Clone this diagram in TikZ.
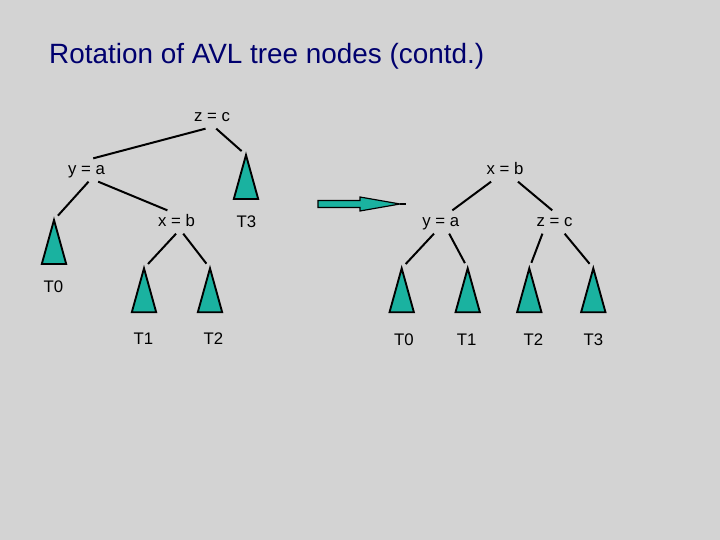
\documentclass[tikz,border=0pt]{standalone}
\usepackage{fontspec}
\setmainfont{Liberation Sans}
\usepackage{xcolor}
\usepackage{tikz}
\usetikzlibrary{positioning,calc}

\definecolor{slidegray}{RGB}{211,211,211}
\definecolor{titleblue}{RGB}{0,0,110}
\definecolor{subteal}{RGB}{26,178,160}

\begin{document}
\begin{tikzpicture}[x=0.03cm, y=-0.03cm,
    key/.style={font=\fontsize{14.3}{16}\selectfont, text height=12pt, text depth=3.5pt, inner sep=2pt},
    leaf/.style={font=\fontsize{14.3}{16}\selectfont, inner sep=1pt},
    subtree/.style={draw=black, line width=1.6pt, fill=subteal, line join=miter},
    link/.style={draw, line width=1.7pt},
    branch/.style={link, shorten >=5pt}
]
    % Slide background
    \fill[slidegray] (0,0) rectangle (720,540);
    \useasboundingbox (0,0) rectangle (720,540);
    \node[anchor=base west, text=titleblue, font=\fontsize{23.8}{28}\selectfont, inner sep=0pt] (title) at (49,63.5) {Rotation of AVL tree nodes (contd.)};

    % Tree before rotation
    \node[key] (lz) at (212,117) {z = c};
    \node[key] (ly) at (86.5,170) {y = a};
    \node[key] (lx) at (176.5,222) {x = b};
    \coordinate (lt0) at (54,220);
    \coordinate (lt1) at (144,268.3);
    \coordinate (lt2) at (210,268.3);
    \coordinate (lt3) at (246,155);

    % Tree after rotation
    \node[key] (rx) at (505,170) {x = b};
    \node[key] (ry) at (440.7,222) {y = a};
    \node[key] (rz) at (554.5,222) {z = c};
    \coordinate (rt0) at (401.7,268.3);
    \coordinate (rt1) at (467.7,268.3);
    \coordinate (rt2) at (529.3,268.3);
    \coordinate (rt3) at (593.3,268.3);

    % Subtrees
    \foreach \t in {lt0,lt1,lt2,lt3,rt0,rt1,rt2,rt3}
        \draw[subtree] (\t) -- ++(-12.2,44) -- ++(24.4,0) -- cycle;

    \node[leaf] (lT0) at (53.5,287) {T0};
    \node[leaf] (lT1) at (143.5,338.5) {T1};
    \node[leaf] (lT2) at (213.5,338.5) {T2};
    \node[leaf] (lT3) at (246.5,221.7) {T3};
    \node[leaf] (rT0) at (404,340) {T0};
    \node[leaf] (rT1) at (466.7,340) {T1};
    \node[leaf] (rT2) at (533.3,340) {T2};
    \node[leaf] (rT3) at (593.3,340) {T3};

    % Edges
    \draw[link] (lz.241) -- (ly.60);
    \draw[branch] (lz.290) -- (lt3);
    \draw[branch] (ly.280) -- (lt0);
    \draw[link] (ly.315) -- (lx.128);
    \draw[branch] (lx.268) -- (lt1);
    \draw[branch] (lx.300) -- (lt2);

    \draw[link] (rx.220) -- (ry.45);
    \draw[link] (rx.318) -- (rz.101);
    \draw[branch] (ry.240) -- (rt0);
    \draw[branch] (ry.306) -- (rt1);
    \draw[branch] (rz.224) -- (rt2);
    \draw[branch] (rz.311) -- (rt3);

    % Rotation arrow
    \coordinate (arrtail) at (318,204);
    \coordinate (arrtip) at (400,204);
    \draw[subtree, line width=1pt] (arrtail) ++(0,-3.5) -- ++(42,0) -- ++(0,-3.5) -- (arrtip) -- ++(-40,7) -- ++(0,-3.5) -- ++(-42,0) -- cycle;
    \draw[line width=1.2pt] (arrtip) -- ++(6,0);
\end{tikzpicture}
\end{document}
